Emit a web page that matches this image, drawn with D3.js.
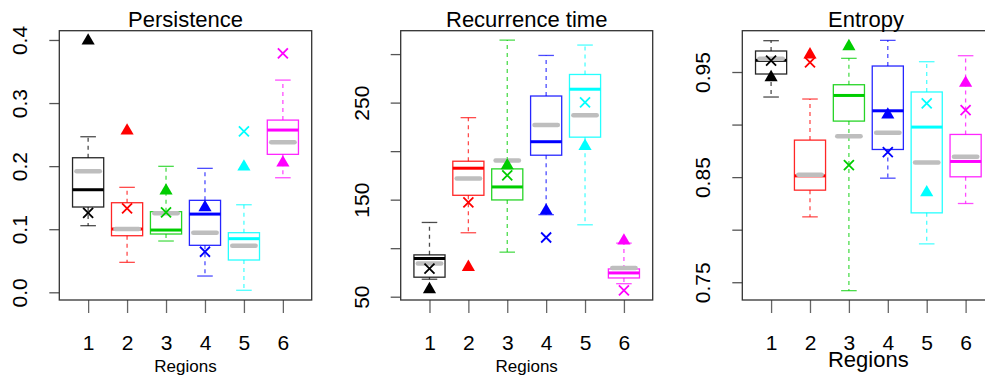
<!DOCTYPE html>
<html>
<head>
<meta charset="utf-8">
<script src="https://cdn.jsdelivr.net/npm/d3@7"></script>
<style>
  body { margin: 0; background: #fff; }
  svg { display: block; font-family: "Liberation Sans", Arial, sans-serif; }
</style>
</head>
<body>
<div id="chart"></div>
<script>
// Boxplots by region: persistence, recurrence time, entropy
(function () {
  ///////////////////////////////////////////////////////////// ! Data
  const regions = [1, 2, 3, 4, 5, 6];
  const regionColors = ["#000000", "#FF0000", "#00CD00", "#0000FF", "#00FFFF", "#FF00FF"];

  // [lower whisker, Q1, median, Q3, upper whisker]
  const persistenceBoxes = [
    [0.1056, 0.1352, 0.1626, 0.2133, 0.2466],
    [0.0475, 0.0897, 0.1003, 0.1420, 0.1664],
    [0.0813, 0.0924, 0.0987, 0.1278, 0.1997],
    [0.0258, 0.0745, 0.1240, 0.1458, 0.1965],
    [0.0032, 0.0512, 0.0850, 0.0945, 0.1388],
    [0.1816, 0.2187, 0.2572, 0.2730, 0.3364],
  ];
  const persistenceGray = [0.1917, 0.1005, 0.1252, 0.0945, 0.0739, 0.2377];
  const persistenceTriangle = [0.3988, 0.2560, 0.1610, 0.1347, 0.1990, 0.2054];
  const persistenceCross = [0.1260, 0.1330, 0.1268, 0.0643, 0.2550, 0.3788];

  const recurrenceBoxes = [
    [68.0, 70.1, 89.3, 93.1, 126.5],
    [115.9, 154.5, 182.4, 189.6, 234.5],
    [95.9, 149.7, 163.1, 181.7, 314.4],
    [134.5, 195.8, 209.7, 256.8, 298.6],
    [124.1, 214.4, 263.8, 279.0, 309.3],
    [63.4, 69.3, 74.5, 78.6, 105.2],
  ];
  const recurrenceGray = [84.1, 171.7, 190.3, 227.0, 236.9, 79.7];
  const recurrenceTriangle = [57.5, 80.4, 185.2, 138.5, 205.1, 107.6];
  const recurrenceCross = [79.0, 147.2, 175.1, 111.0, 250.3, 56.6];

  const entropyBoxes = [
    [0.9262, 0.9481, 0.9611, 0.9700, 0.9798],
    [0.8122, 0.8376, 0.8512, 0.8852, 0.9243],
    [0.7420, 0.9033, 0.9277, 0.9379, 0.9630],
    [0.8490, 0.8763, 0.9131, 0.9557, 0.9801],
    [0.7865, 0.8160, 0.8976, 0.9310, 0.9598],
    [0.8249, 0.8503, 0.8649, 0.8906, 0.9655],
  ];
  const entropyGray = [0.9627, 0.8522, 0.8890, 0.8922, 0.8639, 0.8693];
  const entropyTriangle = [0.9449, 0.9665, 0.9744, 0.9093, 0.8353, 0.9395];
  const entropyCross = [0.9608, 0.9591, 0.8614, 0.8738, 0.9201, 0.9138];

  const persistenceTicks = [0, 0.1, 0.2, 0.3, 0.4];
  const persistenceLabels = ["0.0", "0.1", "0.2", "0.3", "0.4"];
  const recurrenceTicks = [50, 100, 150, 200, 250, 300];
  const recurrenceLabels = ["50", "", "150", "", "250", ""];
  const entropyTicks = [0.75, 0.8, 0.85, 0.9, 0.95];
  const entropyLabels = ["0.75", "", "0.85", "", "0.95"];
  const regionLabels = ["1", "2", "3", "4", "5", "6"];

  ///////////////////////////////////////////////////////////// ! Layout
  const fullWidth = 985;
  const fullHeight = 376;
  const plotTop = 30.7;
  const plotBottom = 300;

  const panels = [
    {
      title: "Persistence", left: 59.3, right: 311.7, domain: [-0.0122, 0.4147],
      boxes: persistenceBoxes, gray: persistenceGray, tri: persistenceTriangle, cross: persistenceCross,
      ticks: persistenceTicks, labels: persistenceLabels, xlabSize: 17, xlabY: 372, titleX: 185.5,
    },
    {
      title: "Recurrence time", left: 400.7, right: 652.7, domain: [46.6, 324.1],
      boxes: recurrenceBoxes, gray: recurrenceGray, tri: recurrenceTriangle, cross: recurrenceCross,
      ticks: recurrenceTicks, labels: recurrenceLabels, xlabSize: 17, xlabY: 372, titleX: 526.7,
    },
    {
      title: "Entropy", left: 742.3, right: 994.4, domain: [0.7331, 0.9893],
      boxes: entropyBoxes, gray: entropyGray, tri: entropyTriangle, cross: entropyCross,
      ticks: entropyTicks, labels: entropyLabels, xlabSize: 22, xlabY: 367, titleX: 866,
    },
  ];

  const svg = d3
    .select("#chart")
    .append("svg")
    .attr("width", fullWidth)
    .attr("height", fullHeight);

  ///////////////////////////////////////////////////////////// ! Panels
  panels.forEach((p) => {
    const g = svg.append("g");

    const x = d3.scaleLinear().domain([0.26, 6.74]).range([p.left, p.right]);
    const y = d3.scaleLinear().domain(p.domain).range([plotBottom, plotTop]);
    const unit = x(1) - x(0);
    const boxHalf = unit * 0.4;
    const capHalf = unit * 0.2;
    const grayHalf = unit * 0.3;

    // Y axis
    const yAxis = g
      .append("g")
      .attr("transform", `translate(${p.left},0)`)
      .call(
        d3.axisLeft(y)
          .tickValues(p.ticks)
          .tickSize(10)
          .tickFormat((d, i) => p.labels[i])
      );
    yAxis.select(".domain").remove();
    yAxis.selectAll(".tick line").attr("stroke", "#555").attr("stroke-width", 1.3);
    yAxis
      .selectAll(".tick text")
      .attr("transform", "rotate(-90)")
      .attr("x", 0)
      .attr("y", -32)
      .attr("dy", 0)
      .attr("text-anchor", "middle")
      .attr("fill", "#000")
      .style("font-size", "21px");

    // X axis
    const xAxis = g
      .append("g")
      .attr("transform", `translate(0,${plotBottom})`)
      .call(
        d3.axisBottom(x)
          .tickValues(regions)
          .tickSize(13)
          .tickFormat((d, i) => regionLabels[i])
      );
    xAxis.select(".domain").remove();
    xAxis.selectAll(".tick line").attr("stroke", "#666").attr("stroke-width", 1.3);
    xAxis
      .selectAll(".tick text")
      .attr("y", 50)
      .attr("dy", 0)
      .attr("fill", "#000")
      .style("font-size", "21px");

    // Frame
    g.append("rect")
      .attr("x", p.left)
      .attr("y", plotTop)
      .attr("width", p.right - p.left)
      .attr("height", plotBottom - plotTop)
      .attr("fill", "none")
      .attr("stroke", "#333")
      .attr("stroke-width", 1.3);

    // Titles
    g.append("text")
      .attr("x", p.titleX)
      .attr("y", 26.5)
      .attr("text-anchor", "middle")
      .style("font-size", "22px")
      .text(p.title);

    g.append("text")
      .attr("x", (p.left + p.right) / 2)
      .attr("y", p.xlabY)
      .attr("text-anchor", "middle")
      .style("font-size", p.xlabSize + "px")
      .text("Regions");

    // Boxes
    p.boxes.forEach((b, i) => {
      const cx = x(regions[i]);
      const col = regionColors[i];
      const bg = g.append("g");

      // whiskers
      bg.append("line")
        .attr("x1", cx).attr("x2", cx)
        .attr("y1", y(b[3])).attr("y2", y(b[4]))
        .attr("stroke", col).attr("stroke-opacity", 0.7)
        .attr("stroke-width", 1.3).attr("stroke-dasharray", "4,4");
      bg.append("line")
        .attr("x1", cx).attr("x2", cx)
        .attr("y1", y(b[1])).attr("y2", y(b[0]))
        .attr("stroke", col).attr("stroke-opacity", 0.7)
        .attr("stroke-width", 1.3).attr("stroke-dasharray", "4,4");
      [b[0], b[4]].forEach((v) => {
        bg.append("line")
          .attr("x1", cx - capHalf).attr("x2", cx + capHalf)
          .attr("y1", y(v)).attr("y2", y(v))
          .attr("stroke", col).attr("stroke-opacity", 0.7)
          .attr("stroke-width", 1.3);
      });

      // box
      bg.append("rect")
        .attr("x", cx - boxHalf)
        .attr("y", y(b[3]))
        .attr("width", boxHalf * 2)
        .attr("height", y(b[1]) - y(b[3]))
        .attr("fill", "none")
        .attr("stroke", col)
        .attr("stroke-opacity", 0.85)
        .attr("stroke-width", 1.3);

      // median
      bg.append("line")
        .attr("x1", cx - boxHalf).attr("x2", cx + boxHalf)
        .attr("y1", y(b[2])).attr("y2", y(b[2]))
        .attr("stroke", col).attr("stroke-width", 3);

      // gray reference line
      bg.append("line")
        .attr("x1", cx - grayHalf).attr("x2", cx + grayHalf)
        .attr("y1", y(p.gray[i])).attr("y2", y(p.gray[i]))
        .attr("stroke", "#BEBEBE").attr("stroke-width", 4.5)
        .attr("stroke-linecap", "round");

      // triangle
      bg.append("path")
        .attr("d", d3.symbol(d3.symbolTriangle, 75)())
        .attr("transform", `translate(${cx},${y(p.tri[i])})`)
        .attr("fill", col);

      // cross
      const cy = y(p.cross[i]);
      const s = 5;
      bg.append("path")
        .attr("d", `M${cx - s},${cy - s}L${cx + s},${cy + s}M${cx - s},${cy + s}L${cx + s},${cy - s}`)
        .attr("stroke", col)
        .attr("stroke-width", 1.8)
        .attr("fill", "none");
    });
  });
})();
</script>
</body>
</html>
